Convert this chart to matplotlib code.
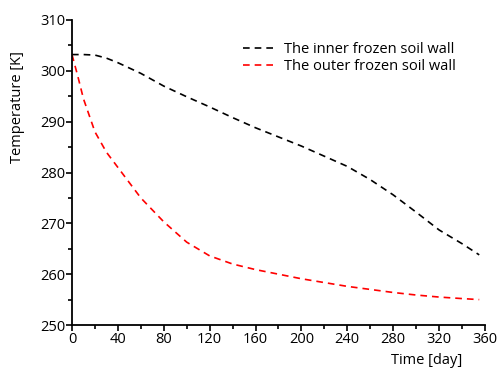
import numpy as np
import matplotlib
matplotlib.use("Agg")
import matplotlib.pyplot as plt
from matplotlib.ticker import MultipleLocator

plt.rcParams['font.family'] = ['Open Sans', 'DejaVu Sans']

# data
days = [0, 5, 10, 20, 30, 40, 60, 80, 100, 120, 140, 160, 200, 240, 260, 280, 300, 320, 340, 355]
inner = [303.2, 303.2, 303.2, 303.1, 302.5, 301.6, 299.5, 297.0, 294.9, 292.9, 290.8, 288.8,
         285.2, 281.2, 278.6, 275.6, 272.2, 268.7, 266.0, 263.8]
outer = [303.2, 299.0, 294.5, 288.0, 284.0, 281.0, 275.0, 270.3, 266.3, 263.6, 262.0, 260.9,
         259.1, 257.6, 257.0, 256.4, 255.9, 255.5, 255.2, 255.0]

fig = plt.figure(figsize=(5.01, 3.69), dpi=100)
ax = fig.add_axes([0.1437, 0.1192, 0.8243, 0.8266])

ax.plot(days, inner, color="black", ls=(0, (4, 3)), lw=1.2, label="The inner frozen soil wall")
ax.plot(days, outer, color="red", ls=(0, (4, 3)), lw=1.2, label="The outer frozen soil wall")

ax.set_xlim(0, 360)
ax.set_ylim(250, 310)
ax.xaxis.set_major_locator(MultipleLocator(40))
ax.xaxis.set_minor_locator(MultipleLocator(20))
ax.yaxis.set_major_locator(MultipleLocator(10))
ax.yaxis.set_minor_locator(MultipleLocator(5))

for s in ["top", "right"]:
    ax.spines[s].set_visible(False)
for s in ["left", "bottom"]:
    ax.spines[s].set_linewidth(1.3)

ax.tick_params(which="major", direction="out", length=4, width=1.2, labelsize=10.5, pad=1)
ax.tick_params(which="minor", direction="out", length=3, width=1.2)

ax.set_xlabel("Time [day]", fontsize=10.5, ha="right")
ax.xaxis.set_label_coords(0.944, -0.092)
ax.set_ylabel("Temperature [K]", fontsize=10.5)
ax.yaxis.set_label_coords(-0.114, 0.715)

ax.legend(loc="upper right", frameon=False, fontsize=10.5, handlelength=2.2,
          handletextpad=0.6, labelspacing=0.1, bbox_to_anchor=(0.962, 0.97))

fig.savefig("out.png", dpi=100)
